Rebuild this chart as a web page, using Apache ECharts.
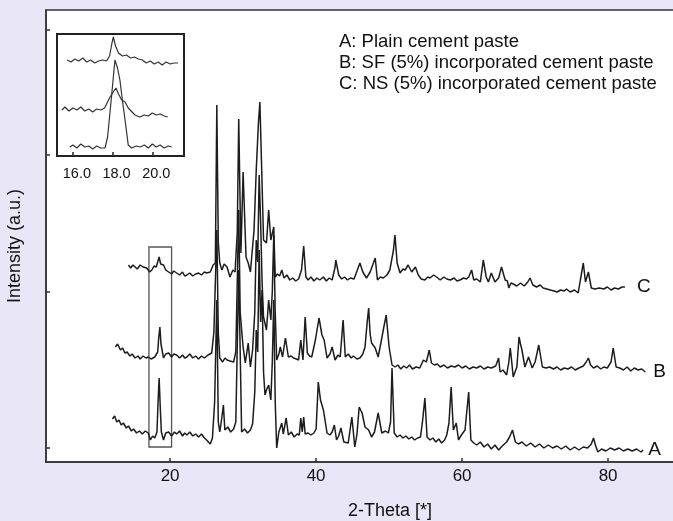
<!DOCTYPE html>
<html>
<head>
<meta charset="utf-8">
<script src="https://cdn.jsdelivr.net/npm/echarts@6/dist/echarts.min.js"></script>
<style>
  html, body { margin: 0; padding: 0; background: #e8e6f7; }
  #chart { width: 673px; height: 521px; }
</style>
</head>
<body>
<div id="chart"></div>
<script>
// main patterns: [2-theta, intensity (offset counts)]
var traceA = [
  [12.1, 43], [12.4, 46], [12.7, 40], [13.0, 42], [13.3, 37], [13.6, 39], [14.0, 34], [14.3, 36], [14.7, 31], [15.0, 33],
  [15.4, 29], [15.8, 31], [16.2, 28], [16.6, 31], [17.0, 29], [17.3, 22], [17.6, 26], [17.9, 24], [18.2, 30], [18.35, 60],
  [18.5, 84], [18.65, 55], [18.8, 30], [19.1, 22], [19.4, 29], [19.8, 30], [20.2, 26], [20.6, 30], [20.9, 28], [21.3, 31],
  [21.7, 26], [22.0, 29], [22.3, 27], [22.7, 30], [23.1, 26], [23.5, 28], [23.9, 25], [24.3, 28], [24.7, 24], [25.0, 22],
  [25.5, 18], [25.8, 24], [26.1, 60], [26.4, 162], [26.6, 40], [26.8, 30], [27.1, 45], [27.3, 57], [27.5, 32], [27.9, 35],
  [28.3, 30], [28.7, 33], [29.0, 40], [29.4, 192], [29.8, 30], [30.2, 33], [30.6, 29], [31.0, 32], [31.3, 38], [31.6, 70],
  [31.8, 132], [32.0, 110], [32.2, 212], [32.4, 140], [32.6, 172], [32.8, 90], [33.0, 67], [33.2, 72], [33.5, 77], [33.8, 62],
  [34.0, 100], [34.2, 162], [34.4, 60], [34.6, 14], [34.9, 30], [35.3, 39], [35.5, 28], [35.9, 44], [36.2, 27], [36.6, 30],
  [37.0, 25], [37.4, 28], [37.7, 27], [37.9, 44], [38.1, 30], [38.3, 45], [38.5, 28], [38.9, 29], [39.3, 27], [39.7, 29],
  [40.0, 33], [40.3, 80], [40.6, 62], [41.0, 52], [41.5, 29], [41.9, 27], [42.2, 30], [42.5, 37], [42.8, 22], [43.1, 26],
  [43.4, 34], [43.8, 20], [44.4, 19], [44.9, 45], [45.3, 15], [45.6, 28], [45.9, 55], [46.3, 49], [46.7, 35], [47.2, 32],
  [47.6, 25], [48.0, 30], [48.5, 49], [49.0, 29], [49.5, 31], [49.9, 29], [50.2, 40], [50.4, 94], [50.7, 29], [51.1, 25],
  [51.5, 27], [51.9, 24], [52.3, 26], [52.7, 23], [53.1, 25], [53.5, 22], [53.9, 24], [54.3, 25], [54.6, 42], [54.9, 64],
  [55.2, 25], [55.6, 22], [56.0, 24], [56.4, 20], [56.8, 23], [57.2, 19], [57.6, 22], [57.9, 27], [58.2, 39], [58.5, 75],
  [58.8, 32], [59.2, 39], [59.5, 22], [59.9, 27], [60.4, 32], [60.9, 70], [61.2, 22], [61.6, 19], [62.0, 17], [62.5, 20],
  [63.0, 15], [63.5, 18], [64.0, 13], [64.5, 17], [65.0, 12], [65.5, 16], [66.1, 20], [66.5, 25], [66.9, 32], [67.3, 20],
  [67.7, 18], [68.2, 20], [68.8, 16], [69.4, 19], [70.0, 15], [70.6, 18], [71.2, 14], [71.8, 17], [72.4, 14], [73.0, 16],
  [73.6, 13], [74.2, 16], [74.8, 12], [75.4, 15], [76.0, 12], [76.6, 15], [77.2, 14], [77.7, 18], [78.0, 24], [78.3, 16],
  [78.6, 10], [79.1, 13], [79.7, 11], [80.3, 14], [80.9, 12], [81.5, 14], [82.1, 11], [82.7, 13], [83.3, 11], [83.9, 13],
  [84.5, 10], [84.8, 12]
];
var traceB = [
  [12.5, 115], [12.8, 118], [13.2, 112], [13.5, 114], [13.8, 109], [14.1, 110], [14.5, 106], [14.8, 108], [15.2, 104], [15.6, 106],
  [15.9, 103], [16.3, 106], [16.7, 104], [17.0, 105], [17.4, 103], [17.9, 105], [18.3, 110], [18.45, 125], [18.6, 135], [18.75, 118],
  [18.9, 112], [19.1, 104], [19.4, 108], [19.8, 109], [20.2, 105], [20.5, 108], [20.9, 107], [21.3, 104], [21.7, 107], [22.0, 104],
  [22.3, 105], [22.7, 108], [23.1, 104], [23.5, 106], [23.9, 103], [24.3, 106], [24.7, 104], [25.2, 107], [25.7, 109], [26.0, 130],
  [26.2, 180], [26.4, 232], [26.6, 130], [26.8, 104], [27.2, 100], [27.5, 104], [27.8, 102], [28.2, 101], [28.7, 100], [29.0, 110],
  [29.2, 180], [29.4, 252], [29.6, 150], [29.8, 132], [30.0, 115], [30.3, 99], [30.7, 119], [31.0, 95], [31.3, 112], [31.6, 150],
  [31.8, 222], [32.0, 200], [32.2, 287], [32.4, 240], [32.6, 180], [32.8, 145], [33.2, 132], [33.5, 162], [33.8, 142], [34.0, 170],
  [34.2, 227], [34.4, 150], [34.6, 102], [34.9, 108], [35.1, 115], [35.4, 105], [35.8, 124], [36.2, 105], [36.6, 106], [36.9, 104],
  [37.3, 103], [37.6, 102], [37.9, 122], [38.2, 102], [38.5, 145], [38.8, 109], [39.1, 106], [39.4, 105], [39.9, 122], [40.4, 144],
  [40.8, 127], [41.1, 122], [41.5, 104], [41.9, 108], [42.2, 115], [42.6, 102], [43.0, 107], [43.3, 105], [43.7, 142], [44.0, 105],
  [44.4, 108], [44.8, 104], [45.1, 106], [45.6, 103], [46.0, 104], [46.4, 108], [46.7, 115], [47.0, 140], [47.2, 154], [47.4, 128],
  [47.6, 119], [48.1, 114], [48.5, 105], [48.9, 120], [49.2, 132], [49.6, 147], [50.0, 115], [50.4, 97], [50.8, 95], [51.2, 97],
  [51.6, 93], [52.0, 96], [52.4, 94], [52.8, 97], [53.2, 93], [53.7, 95], [54.2, 94], [54.7, 102], [55.1, 100], [55.5, 112],
  [55.8, 99], [56.2, 97], [56.6, 98], [57.0, 95], [57.5, 97], [58.0, 94], [58.5, 96], [59.0, 95], [59.5, 97], [60.0, 94],
  [60.5, 96], [61.0, 93], [61.5, 95], [62.0, 94], [62.5, 96], [63.0, 93], [63.5, 95], [64.0, 94], [64.6, 96], [65.0, 104],
  [65.2, 90], [65.6, 92], [66.1, 87], [66.4, 100], [66.6, 114], [66.8, 100], [67.0, 85], [67.5, 95], [67.8, 125], [68.0, 118],
  [68.2, 112], [68.6, 95], [69.1, 105], [69.6, 94], [70.0, 100], [70.5, 117], [71.0, 95], [71.5, 94], [72.0, 95], [72.5, 93],
  [73.0, 95], [73.5, 92], [74.0, 94], [74.5, 93], [75.0, 95], [75.5, 92], [76.0, 94], [76.6, 96], [77.0, 100], [77.3, 104],
  [77.6, 97], [78.0, 94], [78.5, 96], [79.0, 93], [79.4, 95], [79.9, 94], [80.4, 100], [80.7, 114], [81.1, 95], [81.6, 94],
  [82.1, 92], [82.6, 95], [83.1, 91], [83.6, 94], [84.1, 92], [84.6, 93], [85.1, 90]
];
var traceC = [
  [14.3, 197], [14.6, 194], [14.9, 197], [15.2, 195], [15.5, 193], [15.9, 197], [16.3, 195], [16.8, 194], [17.2, 190], [17.5, 192],
  [17.8, 196], [18.1, 195], [18.3, 200], [18.5, 205], [18.7, 198], [19.1, 197], [19.4, 192], [19.8, 190], [20.2, 188], [20.5, 191],
  [20.9, 189], [21.3, 187], [21.7, 190], [22.0, 186], [22.3, 187], [22.7, 189], [23.1, 186], [23.5, 188], [23.9, 189], [24.3, 187],
  [24.7, 190], [25.0, 189], [25.5, 190], [25.9, 197], [26.2, 199], [26.4, 357], [26.6, 220], [26.8, 199], [27.1, 192], [27.4, 198],
  [27.8, 195], [28.2, 185], [28.6, 192], [28.9, 190], [29.2, 230], [29.4, 343], [29.7, 209], [30.0, 290], [30.4, 205], [30.7, 199],
  [31.0, 190], [31.5, 232], [31.8, 292], [32.1, 339], [32.3, 360], [32.5, 305], [32.8, 222], [33.2, 219], [33.5, 252], [33.8, 222],
  [34.2, 235], [34.4, 185], [34.7, 188], [35.0, 186], [35.3, 192], [35.6, 184], [36.0, 187], [36.4, 182], [36.8, 184], [37.2, 181],
  [37.6, 183], [38.0, 192], [38.3, 216], [38.6, 185], [38.9, 182], [39.3, 185], [39.7, 181], [40.1, 184], [40.5, 182], [41.0, 185],
  [41.4, 181], [41.8, 184], [42.2, 182], [42.6, 195], [42.7, 202], [43.1, 187], [43.5, 183], [43.9, 185], [44.3, 182], [44.7, 184],
  [45.2, 183], [45.8, 195], [46.0, 199], [46.4, 190], [46.9, 184], [47.4, 190], [48.1, 204], [48.4, 182], [48.8, 185], [49.2, 184],
  [49.7, 187], [50.1, 192], [50.6, 212], [50.8, 227], [51.1, 199], [51.5, 189], [51.9, 193], [52.2, 192], [52.6, 197], [53.1, 190],
  [53.6, 195], [54.0, 187], [54.4, 183], [54.9, 182], [55.3, 185], [55.6, 184], [56.1, 187], [56.5, 185], [57.0, 182], [57.5, 185],
  [57.9, 183], [58.4, 182], [58.9, 184], [59.3, 181], [59.7, 182], [60.2, 184], [60.6, 183], [60.9, 185], [61.3, 192], [61.6, 182],
  [62.0, 183], [62.5, 180], [62.9, 202], [63.3, 185], [63.6, 180], [64.0, 189], [64.5, 180], [65.0, 184], [65.4, 195], [65.9, 182],
  [66.2, 181], [66.4, 174], [66.7, 179], [67.0, 178], [67.5, 176], [68.0, 179], [68.5, 176], [69.0, 180], [69.3, 184], [69.7, 177],
  [70.2, 175], [70.7, 177], [71.1, 174], [71.6, 173], [72.1, 172], [72.6, 171], [73.0, 170], [73.5, 172], [74.0, 171], [74.3, 173],
  [74.8, 170], [75.4, 172], [75.9, 169], [76.2, 182], [76.6, 199], [76.9, 180], [77.3, 190], [77.7, 174], [78.2, 173], [78.8, 174],
  [79.4, 173], [79.9, 175], [80.4, 172], [80.9, 174], [81.4, 173], [81.9, 175], [82.3, 175]
];

// inset (zoom on the 18 deg peak)
var insetA = [
  [15.85, 9], [16.0, 11], [16.2, 8], [16.4, 12], [16.6, 9], [16.8, 10], [17.0, 7], [17.2, 10], [17.4, 8], [17.62, 8],
  [17.75, 19], [17.95, 60], [18.12, 96], [18.25, 88], [18.37, 76], [18.5, 55], [18.63, 36], [18.79, 11], [18.96, 8], [19.2, 10],
  [19.4, 9], [19.6, 11], [19.8, 8], [20.0, 12], [20.2, 9], [20.4, 11], [20.6, 8], [20.8, 10], [20.98, 9]
];
var insetB = [
  [15.45, 46], [15.6, 49], [15.8, 45], [16.0, 48], [16.2, 46], [16.4, 49], [16.6, 45], [16.8, 47], [17.0, 44], [17.2, 47],
  [17.4, 46], [17.6, 48], [17.87, 59], [18.17, 68], [18.3, 62], [18.46, 56], [18.63, 54], [18.79, 48], [19.13, 41], [19.38, 39],
  [19.6, 41], [19.8, 40], [20.0, 43], [20.2, 41], [20.4, 42], [20.6, 40], [20.78, 39]
];
var insetC = [
  [15.7, 96], [15.9, 94], [16.1, 97], [16.3, 95], [16.5, 98], [16.7, 94], [16.9, 96], [17.1, 93], [17.3, 95], [17.5, 96],
  [17.7, 95], [17.85, 100], [17.97, 113], [18.04, 119], [18.15, 110], [18.3, 103], [18.5, 100], [18.7, 101], [18.9, 98], [19.1, 99],
  [19.3, 97], [19.5, 96], [19.7, 93], [19.9, 95], [20.1, 92], [20.3, 94], [20.5, 91], [20.7, 94], [20.9, 92], [21.1, 93],
  [21.3, 93]
];

var mainTicksX = [20, 40, 60, 80];
var mainTicksY = [14, 170, 307, 432];
var insetTicksX = [16, 18, 20];
var traceNames = ['A', 'B', 'C'];
var boxCorners = [[17.1, 15], [20.2, 215]];
var legendLines = [
  'A: Plain cement paste',
  'B: SF (5%) incorporated cement paste',
  'C: NS (5%) incorporated cement paste'
];

var font = "'Liberation Sans', Arial, sans-serif";
var ink = '#1c1c1c';

function traceSeries(data, name, dist, extra) {
  var s = {
    type: 'line',
    name: name,
    data: data,
    xAxisIndex: 0,
    yAxisIndex: 0,
    symbol: 'none',
    silent: true,
    lineStyle: { color: ink, width: 1.5 },
    endLabel: {
      show: true,
      formatter: name,
      distance: dist,
      color: '#111',
      fontFamily: font,
      fontSize: 19
    }
  };
  if (extra) {
    s.markArea = extra;
  }
  return s;
}

function insetSeries(data) {
  return {
    type: 'line',
    data: data,
    xAxisIndex: 1,
    yAxisIndex: 1,
    symbol: 'none',
    silent: true,
    lineStyle: { color: '#333', width: 1.2 }
  };
}

var chart = echarts.init(document.getElementById('chart'));

var option = {
  backgroundColor: '#e8e6f7',
  animation: false,
  grid: [
    {
      left: 46, top: 10, right: -3, bottom: 59, outerBoundsMode: 'none',
      show: true, backgroundColor: '#fff', borderColor: '#333', borderWidth: 1.5
    },
    {
      left: 57, top: 34, width: 127, height: 122, outerBoundsMode: 'none',
      show: true, backgroundColor: '#fff', borderColor: '#222', borderWidth: 2
    }
  ],
  xAxis: [
    {
      type: 'value', gridIndex: 0, min: 3, max: 89.3,
      name: '2-Theta [*]', nameLocation: 'middle', nameGap: 40,
      nameTextStyle: { fontFamily: font, fontSize: 18, color: '#111', padding: [0, 0, 0, 58] },
      axisLine: { onZero: false, lineStyle: { color: '#333', width: 1.5 } },
      axisTick: { inside: true, length: 4, customValues: mainTicksX, lineStyle: { color: '#333', width: 1.5 } },
      axisLabel: { customValues: mainTicksX, margin: 6, fontFamily: font, fontSize: 17, color: '#111' },
      splitLine: { show: false }
    },
    {
      type: 'value', gridIndex: 1, min: 15.2, max: 21.6,
      axisLine: { show: false },
      axisTick: { inside: true, length: 4, customValues: insetTicksX, lineStyle: { color: '#222', width: 1.5 } },
      axisLabel: {
        customValues: insetTicksX, margin: 10, fontFamily: font, fontSize: 14.5, color: '#111',
        padding: [0, 0, 0, 8],
        formatter: function (v) { return v.toFixed(1); }
      },
      splitLine: { show: false }
    }
  ],
  yAxis: [
    {
      type: 'value', gridIndex: 0, min: 0, max: 452,
      name: 'Intensity (a.u.)', nameLocation: 'middle', nameGap: 22,
      nameTextStyle: { fontFamily: font, fontSize: 18, color: '#111', padding: [0, 20, 0, 0] },
      axisLine: { show: true, onZero: false, lineStyle: { color: '#333', width: 1.5 } },
      axisTick: { show: true, inside: true, length: 4, customValues: mainTicksY, lineStyle: { color: '#333', width: 1.5 } },
      axisLabel: { show: false },
      splitLine: { show: false }
    },
    {
      type: 'value', gridIndex: 1, min: 0, max: 122,
      axisLine: { show: false },
      axisTick: { show: false },
      axisLabel: { show: false },
      splitLine: { show: false }
    }
  ],
  graphic: [
    {
      type: 'text',
      left: 339,
      top: 31,
      style: {
        text: legendLines.join('\n'),
        font: '18.5px ' + font,
        lineHeight: 21,
        fill: '#111'
      }
    }
  ],
  series: [
    traceSeries(traceA, traceNames[0], 5, {
      silent: true,
      itemStyle: { color: 'rgba(0,0,0,0)', borderColor: '#555', borderWidth: 1.3 },
      data: [[{ coord: boxCorners[0] }, { coord: boxCorners[1] }]]
    }),
    traceSeries(traceB, traceNames[1], 8),
    traceSeries(traceC, traceNames[2], 12),
    insetSeries(insetA),
    insetSeries(insetB),
    insetSeries(insetC)
  ]
};

chart.setOption(option);
</script>
</body>
</html>
